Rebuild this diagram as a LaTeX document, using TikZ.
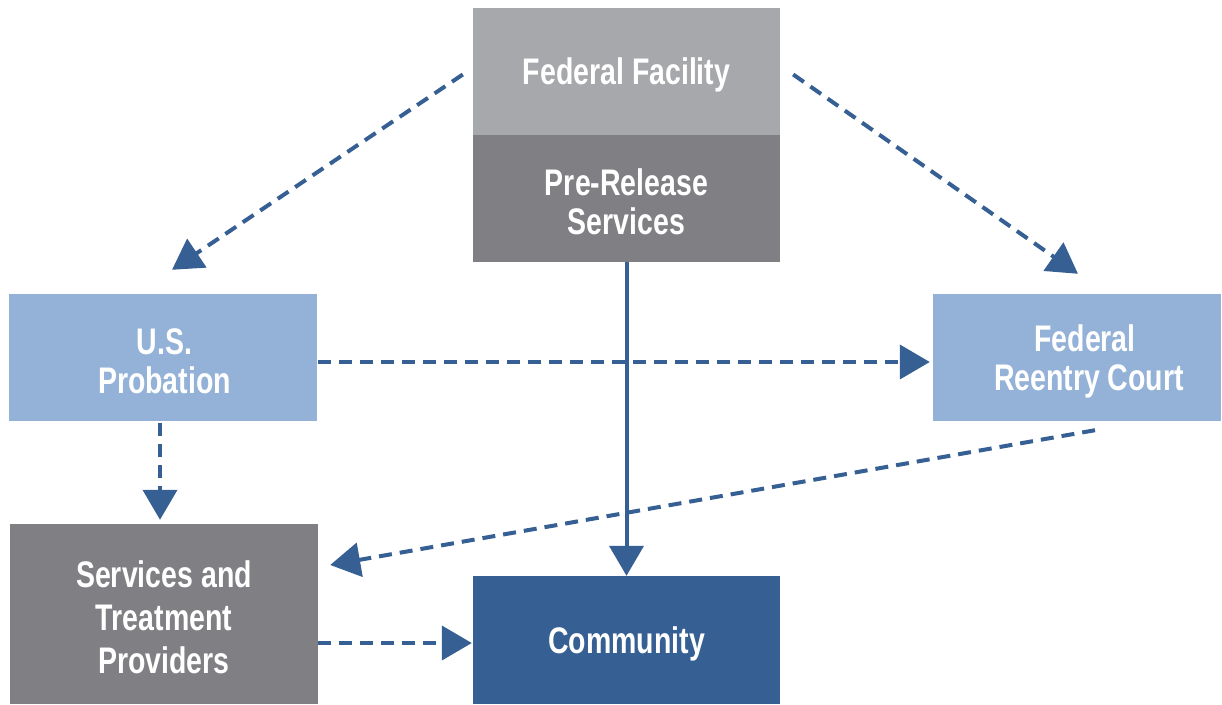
\documentclass[tikz,border=0pt]{standalone}
\usepackage{fontspec}
\setmainfont{Liberation Sans}[FakeStretch=0.77]
\usetikzlibrary{arrows.meta}
\definecolor{lgray}{HTML}{A7A8AB}
\definecolor{dgray}{HTML}{808084}
\definecolor{lblue}{HTML}{94B2D8}
\definecolor{dblue}{HTML}{365F93}
\newcommand\toppad{\rule{0pt}{34pt}}
\tikzset{
  box/.style={draw=none, text=white, align=center, inner sep=0pt,
    font=\fontsize{37}{39}\selectfont\bfseries},
  conn/.style={draw=dblue, line width=4pt,
    -{Triangle[length=30pt,width=34pt]}, color=dblue},
  dashconn/.style={conn, dash pattern=on 13pt off 8pt},
}
\begin{document}
\begin{tikzpicture}[x=1pt,y=-1pt]
\useasboundingbox (0,0) rectangle (1222,704);
\node[box, fill=lgray, minimum width=307pt, minimum height=127pt] (FF) at (626.5,71.5) {\toppad Federal Facility};
\node[box, fill=dgray, minimum width=307pt, minimum height=127pt] (PRS) at (626.5,198.5) {\toppad Pre-Release\\Services};
\node[box, fill=lblue, minimum width=308pt, minimum height=127pt] (USP) at (163,357.5) {\toppad\hspace*{3pt}U.S.\\\hspace*{3pt}Probation};
\node[box, fill=lblue, minimum width=288pt, minimum height=127pt] (FRC) at (1077,357.5) {\toppad\hspace*{16pt}Federal\\\hspace*{24pt}Reentry Court};
\node[box, fill=dgray, minimum width=308pt, minimum height=180pt, font=\fontsize{37}{43}\selectfont\bfseries] (STP) at (164,614) {\toppad Services and\\Treatment\\Providers};
\node[box, fill=dblue, minimum width=307pt, minimum height=128pt] (COM) at (626.5,640) {\toppad Community};

\draw[dashconn] ([xshift=-10pt,yshift=-3pt]FF.west) -- ([xshift=9pt,yshift=24pt]USP.north);
\draw[dashconn] ([xshift=13pt,yshift=-3pt]FF.east) -- ([xshift=1pt,yshift=20pt]FRC.north);
\draw[dashconn] ([xshift=1pt,yshift=-4.5pt]USP.east) -- ([xshift=-3pt,yshift=-4.5pt]FRC.west);
\draw[dashconn] ([xshift=-3pt,yshift=-2pt]USP.south) -- ([xshift=-4pt,yshift=4pt]STP.north);
\draw[dashconn] ([xshift=18pt,yshift=-9pt]FRC.south) -- ([xshift=12pt,yshift=49pt]STP.east);
\draw[conn] (PRS.south) -- (COM.north);
\draw[dashconn] ([yshift=-29pt]STP.east) -- ([xshift=-1pt,yshift=-29pt]STP.east -| COM.west);
\end{tikzpicture}
\end{document}
